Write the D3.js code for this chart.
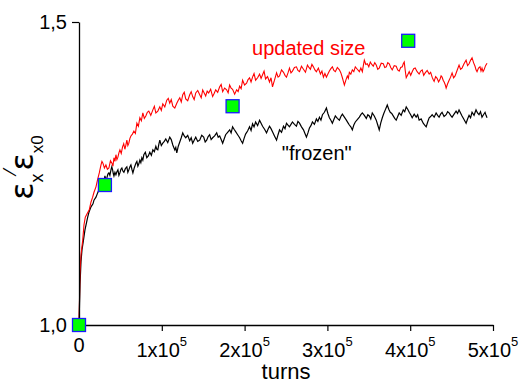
<!DOCTYPE html>
<html>
<head>
<meta charset="utf-8">
<script src="https://cdn.jsdelivr.net/npm/d3@7"></script>
<style>
  body { margin: 0; background: #fff; }
  svg { display: block; font-family: "Liberation Sans", Arial, sans-serif; }
</style>
</head>
<body>
<div id="chart"></div>
<script>
// turns are in thousands, ratio is eps_x / eps_x0
const updatedSize = [
  [0,1.000],[0.6,1.041],[1.2,1.086],[2.4,1.116],[4.5,1.140],[6.0,1.165],[7.6,1.178],[9.6,1.183],
  [12.4,1.190],[14.5,1.203],[16.5,1.211],[18.1,1.219],[20.5,1.228],[22.3,1.239],[24.5,1.251],
  [26.5,1.264],[27.7,1.270],[28.9,1.267],[30.7,1.259],[32.5,1.264],[34.3,1.257],[36.1,1.259],[38.0,1.271],
  [39.8,1.267],[41.0,1.262],[42.2,1.276],[43.4,1.270],[44.6,1.281],[45.8,1.273],[47.0,1.277],[48.2,1.284],
  [49.4,1.289],[51.0,1.283],[52.6,1.294],[54.0,1.299],[55.4,1.290],[56.6,1.297],[57.8,1.305],[59.0,1.296],
  [60.2,1.300],[61.5,1.308],[62.7,1.312],[64.5,1.315],[66.3,1.320],[68.1,1.316],[69.9,1.333],[71.7,1.328],
  [73.5,1.342],[75.3,1.337],[77.1,1.350],[78.9,1.341],[80.7,1.345],[82.5,1.351],[84.3,1.353],[86.7,1.346],
  [89.2,1.355],[91.0,1.361],[92.8,1.350],[95.2,1.353],[97.6,1.360],[99.4,1.354],[101.2,1.365],[103.6,1.360],
  [106.0,1.371],[107.8,1.374],[109.6,1.366],[111.4,1.372],[113.3,1.361],[115.7,1.358],[118.1,1.366],[119.9,1.371],
  [121.7,1.375],[123.5,1.368],[125.3,1.380],[127.1,1.384],[128.9,1.373],[131.3,1.370],[133.7,1.380],[135.5,1.385],
  [137.3,1.377],[139.1,1.372],[141.0,1.383],[143.4,1.387],[145.8,1.380],[147.6,1.375],[149.4,1.388],[151.2,1.383],
  [153.0,1.378],[154.8,1.386],[156.6,1.383],[159.0,1.389],[161.4,1.377],[163.2,1.382],[165.1,1.388],[167.5,1.384],
  [169.9,1.393],[171.7,1.397],[173.5,1.385],[175.9,1.391],[178.3,1.388],[180.1,1.383],[181.9,1.396],[183.7,1.391],
  [185.5,1.389],[188.0,1.381],[190.4,1.388],[192.2,1.385],[194.0,1.394],[195.8,1.390],[197.6,1.404],[200.0,1.396],
  [202.4,1.399],[204.2,1.405],[206.0,1.408],[207.8,1.401],[209.6,1.409],[211.4,1.415],[213.3,1.404],[215.7,1.408],
  [218.1,1.414],[219.9,1.407],[221.7,1.413],[223.5,1.419],[225.3,1.406],[227.7,1.410],[230.1,1.401],[231.9,1.408],
  [233.7,1.393],[235.0,1.399],[236.1,1.404],[237.3,1.410],[238.6,1.416],[240.4,1.409],[242.2,1.411],[244.6,1.421],
  [247.0,1.417],[248.8,1.412],[250.6,1.409],[252.4,1.416],[254.2,1.424],[256.0,1.416],[257.8,1.419],[260.2,1.425],
  [262.6,1.426],[264.4,1.420],[266.3,1.418],[268.7,1.427],[271.1,1.422],[273.5,1.417],[275.9,1.429],[277.7,1.425],
  [279.5,1.422],[281.3,1.430],[283.1,1.426],[284.9,1.421],[286.7,1.418],[289.1,1.424],[291.6,1.414],[293.4,1.419],
  [295.2,1.409],[297.0,1.415],[298.8,1.409],[300.6,1.414],[302.4,1.419],[304.2,1.423],[306.0,1.426],[307.8,1.420],
  [309.6,1.418],[312.0,1.425],[314.5,1.421],[316.3,1.416],[318.1,1.408],[319.3,1.402],[320.5,1.396],[322.3,1.404],
  [324.1,1.411],[325.3,1.407],[326.5,1.417],[328.3,1.414],[330.1,1.421],[331.9,1.418],[333.7,1.426],[336.1,1.422],
  [338.6,1.418],[340.4,1.424],[342.2,1.418],[343.4,1.428],[344.6,1.437],[346.4,1.430],[348.2,1.431],[350.0,1.426],
  [351.8,1.434],[353.6,1.430],[355.4,1.427],[357.2,1.433],[359.0,1.429],[360.8,1.422],[362.6,1.424],[365.0,1.432],
  [367.5,1.431],[369.3,1.425],[371.1,1.426],[372.9,1.433],[374.7,1.431],[376.5,1.425],[378.3,1.421],[380.7,1.428],
  [383.1,1.427],[384.9,1.421],[386.7,1.419],[388.5,1.425],[390.4,1.426],[391.6,1.431],[392.8,1.434],[394.0,1.420],
  [395.2,1.408],[397.0,1.413],[398.8,1.418],[400.6,1.412],[402.4,1.418],[404.2,1.423],[406.0,1.424],[408.4,1.418],
  [410.8,1.414],[412.7,1.419],[414.5,1.421],[416.3,1.412],[418.1,1.416],[420.5,1.420],[422.9,1.414],[424.7,1.417],
  [426.5,1.409],[427.7,1.405],[428.9,1.402],[430.7,1.410],[432.5,1.407],[434.3,1.401],[436.1,1.406],[437.3,1.411],
  [438.5,1.409],[439.8,1.404],[441.0,1.401],[442.2,1.397],[443.4,1.391],[445.2,1.398],[447.0,1.404],[448.8,1.409],
  [450.6,1.416],[452.4,1.408],[454.2,1.411],[456.6,1.420],[459.0,1.429],[460.8,1.422],[462.6,1.424],[465.0,1.431],
  [467.5,1.437],[469.3,1.428],[471.1,1.431],[472.9,1.437],[474.7,1.441],[476.5,1.433],[478.3,1.427],[479.5,1.421],
  [480.7,1.418],[482.5,1.424],[484.3,1.426],[485.5,1.419],[486.7,1.424],[488.0,1.418],[489.2,1.421],[491.0,1.428],
  [492.8,1.432]
];

const frozen = [
  [0,1.000],[0.6,1.033],[1.2,1.066],[2.4,1.104],[3.6,1.124],[5.4,1.140],[7.2,1.157],[10.5,1.178],
  [12.0,1.186],[14.5,1.195],[16.9,1.200],[18.1,1.206],[20.5,1.211],[22.5,1.218],[24.1,1.223],
  [26.5,1.228],[27.7,1.233],[28.9,1.239],[30.1,1.236],[31.3,1.246],[32.5,1.240],[33.7,1.243],[34.9,1.249],
  [36.1,1.251],[37.3,1.247],[38.6,1.256],[39.6,1.261],[40.6,1.256],[41.4,1.250],[42.2,1.246],[43.4,1.252],
  [44.6,1.248],[45.8,1.253],[47.0,1.256],[48.2,1.247],[49.4,1.251],[50.6,1.257],[51.8,1.259],[53.0,1.254],
  [54.2,1.252],[56.0,1.258],[57.8,1.261],[59.0,1.252],[60.2,1.256],[61.5,1.261],[62.7,1.264],[63.9,1.257],
  [65.1,1.251],[66.9,1.260],[68.7,1.267],[69.9,1.270],[71.1,1.262],[72.3,1.266],[73.5,1.272],[74.7,1.268],
  [75.9,1.276],[77.1,1.272],[78.3,1.281],[80.1,1.285],[81.9,1.276],[83.7,1.279],[85.5,1.285],[87.4,1.280],
  [89.2,1.289],[91.0,1.286],[92.8,1.295],[94.0,1.290],[95.2,1.289],[96.4,1.298],[97.6,1.305],[99.4,1.296],
  [101.2,1.300],[103.0,1.303],[104.8,1.307],[107.2,1.301],[109.6,1.310],[111.4,1.306],[113.3,1.297],[114.5,1.293],
  [115.7,1.289],[116.9,1.293],[118.1,1.284],[119.9,1.295],[121.7,1.302],[123.5,1.309],[125.3,1.317],[127.1,1.312],
  [128.9,1.309],[131.3,1.313],[133.7,1.304],[135.5,1.309],[137.3,1.300],[139.1,1.305],[141.0,1.310],[143.4,1.303],
  [145.8,1.305],[148.2,1.313],[150.6,1.310],[152.4,1.302],[154.2,1.305],[156.0,1.311],[157.8,1.314],[159.6,1.306],
  [161.4,1.309],[163.8,1.312],[166.3,1.317],[168.1,1.310],[169.9,1.312],[171.7,1.306],[173.5,1.300],[175.3,1.307],
  [177.1,1.314],[179.5,1.318],[182.0,1.322],[183.7,1.317],[185.5,1.327],[187.3,1.323],[189.2,1.319],[191.6,1.314],
  [194.0,1.309],[195.8,1.304],[197.6,1.300],[199.4,1.308],[201.2,1.315],[203.6,1.320],[206.0,1.327],[207.8,1.321],
  [209.6,1.332],[211.4,1.327],[213.3,1.335],[215.7,1.329],[218.1,1.338],[219.9,1.333],[221.7,1.328],[224.1,1.323],
  [226.5,1.317],[228.3,1.323],[230.1,1.328],[231.9,1.324],[233.7,1.319],[236.1,1.312],[238.6,1.305],[240.4,1.314],
  [242.2,1.322],[244.6,1.318],[247.0,1.328],[248.8,1.324],[250.6,1.333],[252.4,1.330],[254.2,1.327],[256.0,1.331],
  [257.8,1.335],[260.2,1.331],[262.6,1.328],[264.4,1.336],[266.3,1.333],[268.7,1.327],[271.1,1.322],[272.9,1.316],
  [274.7,1.310],[276.5,1.317],[278.3,1.325],[280.1,1.329],[281.9,1.335],[284.3,1.331],[286.7,1.340],[288.5,1.336],
  [290.4,1.343],[292.2,1.338],[294.0,1.347],[296.4,1.351],[298.8,1.358],[300.6,1.349],[302.4,1.342],[304.2,1.338],
  [306.0,1.333],[307.8,1.339],[309.6,1.345],[312.0,1.341],[314.5,1.338],[316.3,1.344],[318.1,1.348],[320.5,1.343],
  [322.9,1.338],[324.7,1.334],[326.5,1.330],[328.3,1.327],[330.1,1.322],[331.9,1.330],[333.7,1.335],[336.1,1.339],
  [338.6,1.343],[340.4,1.347],[342.2,1.350],[344.6,1.346],[347.0,1.341],[348.8,1.347],[350.6,1.345],[352.4,1.340],
  [354.2,1.350],[356.6,1.345],[359.0,1.338],[360.8,1.330],[362.6,1.322],[364.4,1.333],[366.3,1.342],[368.1,1.349],
  [369.9,1.355],[371.1,1.359],[372.3,1.363],[374.1,1.356],[375.9,1.351],[377.7,1.349],[379.5,1.345],[381.3,1.341],
  [383.1,1.338],[384.9,1.344],[386.7,1.350],[389.1,1.346],[391.6,1.355],[393.4,1.352],[395.2,1.360],[397.0,1.356],
  [398.8,1.351],[400.6,1.347],[402.4,1.342],[404.8,1.348],[407.2,1.343],[409.0,1.347],[410.8,1.338],[413.2,1.340],
  [415.7,1.333],[417.5,1.330],[419.3,1.327],[421.1,1.335],[422.9,1.342],[424.7,1.344],[426.5,1.347],[428.9,1.343],
  [431.3,1.350],[433.1,1.346],[434.9,1.343],[436.7,1.348],[438.5,1.351],[440.9,1.344],[443.4,1.347],[445.2,1.352],
  [447.0,1.350],[448.8,1.346],[450.6,1.343],[453.0,1.348],[455.4,1.353],[457.2,1.349],[459.0,1.355],[460.8,1.350],
  [462.6,1.345],[465.0,1.339],[467.5,1.333],[469.3,1.340],[471.1,1.346],[472.9,1.342],[474.7,1.351],[477.1,1.346],
  [479.5,1.355],[481.3,1.350],[483.1,1.347],[484.9,1.352],[486.7,1.343],[488.5,1.347],[490.4,1.351],[491.6,1.346],
  [492.8,1.342]
];

// simulated points (green squares)
const markerPoints = [[0,1.000],[31.3,1.231],[185.5,1.361],[397.6,1.469]];

const xMajor = [0, 1e5, 2e5, 3e5, 4e5, 5e5];
const xMinor = [0.5e5, 1.5e5, 2.5e5, 3.5e5, 4.5e5];
const yMajor = [1.0, 1.5];
const yMinor = [1.1, 1.2, 1.3, 1.4];

const width = 521, height = 383;
const margin = { left: 79, right: 28, top: 22, bottom: 58 };

const svg = d3.select("#chart").append("svg")
    .attr("width", width)
    .attr("height", height);

const x = d3.scaleLinear().domain([0, 5e5]).range([margin.left, width - margin.right]);
const y = d3.scaleLinear().domain([1.0, 1.5]).range([height - margin.bottom, margin.top]);

const line = d3.line()
    .x(d => x(d[0] * 1000))
    .y(d => y(d[1]));

// curves
svg.append("path")
    .datum(frozen)
    .attr("fill", "none")
    .attr("stroke", "#000")
    .attr("stroke-width", 1.2)
    .attr("d", line);

svg.append("path")
    .datum(updatedSize)
    .attr("fill", "none")
    .attr("stroke", "#ff0000")
    .attr("stroke-width", 1.1)
    .attr("d", line);

// axes
const fmtY = d => d3.format(".1f")(d).replace(".", ",");

const xAxisG = svg.append("g")
    .attr("transform", `translate(0,${y(1.0)})`);
xAxisG.call(d3.axisBottom(x).tickValues(xMinor).tickSize(4).tickSizeOuter(0).tickFormat(""));
xAxisG.call(d3.axisBottom(x).tickValues(xMajor).tickSize(6).tickSizeOuter(0).tickFormat(""));

const yAxisG = svg.append("g")
    .attr("transform", `translate(${x(0)},0)`);
yAxisG.call(d3.axisLeft(y).tickValues(yMinor).tickSize(4).tickSizeOuter(0).tickFormat(""));
yAxisG.call(d3.axisLeft(y).tickValues(yMajor).tickSize(7).tickSizeOuter(0).tickPadding(5).tickFormat(fmtY));

svg.selectAll(".domain").attr("stroke", "#000").attr("stroke-width", 1.3);
svg.selectAll(".tick line").attr("stroke", "#000").attr("stroke-width", 1.2);
yAxisG.selectAll(".tick text")
    .attr("font-size", 20)
    .attr("font-family", "Liberation Sans, Arial, sans-serif")
    .attr("fill", "#000");

// x tick labels with superscript exponent
const xLabels = svg.append("g");
xMajor.forEach(v => {
    const t = xLabels.append("text")
        .attr("x", x(v))
        .attr("y", y(1.0) + (v === 0 ? 27 : 32))
        .attr("text-anchor", "middle")
        .attr("font-size", 20);
    if (v === 0) {
        t.text("0");
    } else {
        t.append("tspan").text(`${v / 1e5}x10`);
        t.append("tspan").attr("font-size", 13).attr("dy", -11).text("5");
    }
});

// axis titles
svg.append("text")
    .attr("x", (x(0) + x(5e5)) / 2)
    .attr("y", height - 4)
    .attr("text-anchor", "middle")
    .attr("font-size", 22)
    .text("turns");

const yTitle = svg.append("text")
    .attr("transform", `translate(33,${(y(1.0) + y(1.5)) / 2 - 6}) rotate(-90)`)
    .attr("text-anchor", "middle")
    .attr("font-size", 32);
yTitle.append("tspan").attr("font-family", "DejaVu Sans").text("ε");
yTitle.append("tspan").attr("font-size", 18).attr("dy", 10).text("x");
yTitle.append("tspan").attr("font-size", 17).attr("font-family", "DejaVu Sans").attr("dy", -27).text("⁄");
yTitle.append("tspan").attr("font-family", "DejaVu Sans").attr("dy", 17).text("ε");
yTitle.append("tspan").attr("font-size", 17).attr("dy", 10).text("x0");

// curve labels
svg.append("text")
    .attr("x", x(2.09e5)).attr("y", y(1.4455))
    .attr("font-size", 20)
    .attr("fill", "#ff0000")
    .text("updated size");

svg.append("text")
    .attr("x", x(2.45e5)).attr("y", y(1.272))
    .attr("font-size", 20)
    .attr("fill", "#000")
    .text("\"frozen\"");

// markers
const sq = 13;
svg.append("g")
    .selectAll("rect")
    .data(markerPoints)
    .join("rect")
    .attr("x", d => x(d[0] * 1000) - sq / 2)
    .attr("y", d => y(d[1]) - sq / 2)
    .attr("width", sq)
    .attr("height", sq)
    .attr("fill", "#00ff00")
    .attr("stroke", "#1a1aff")
    .attr("stroke-width", 1.3);
</script>
</body>
</html>
